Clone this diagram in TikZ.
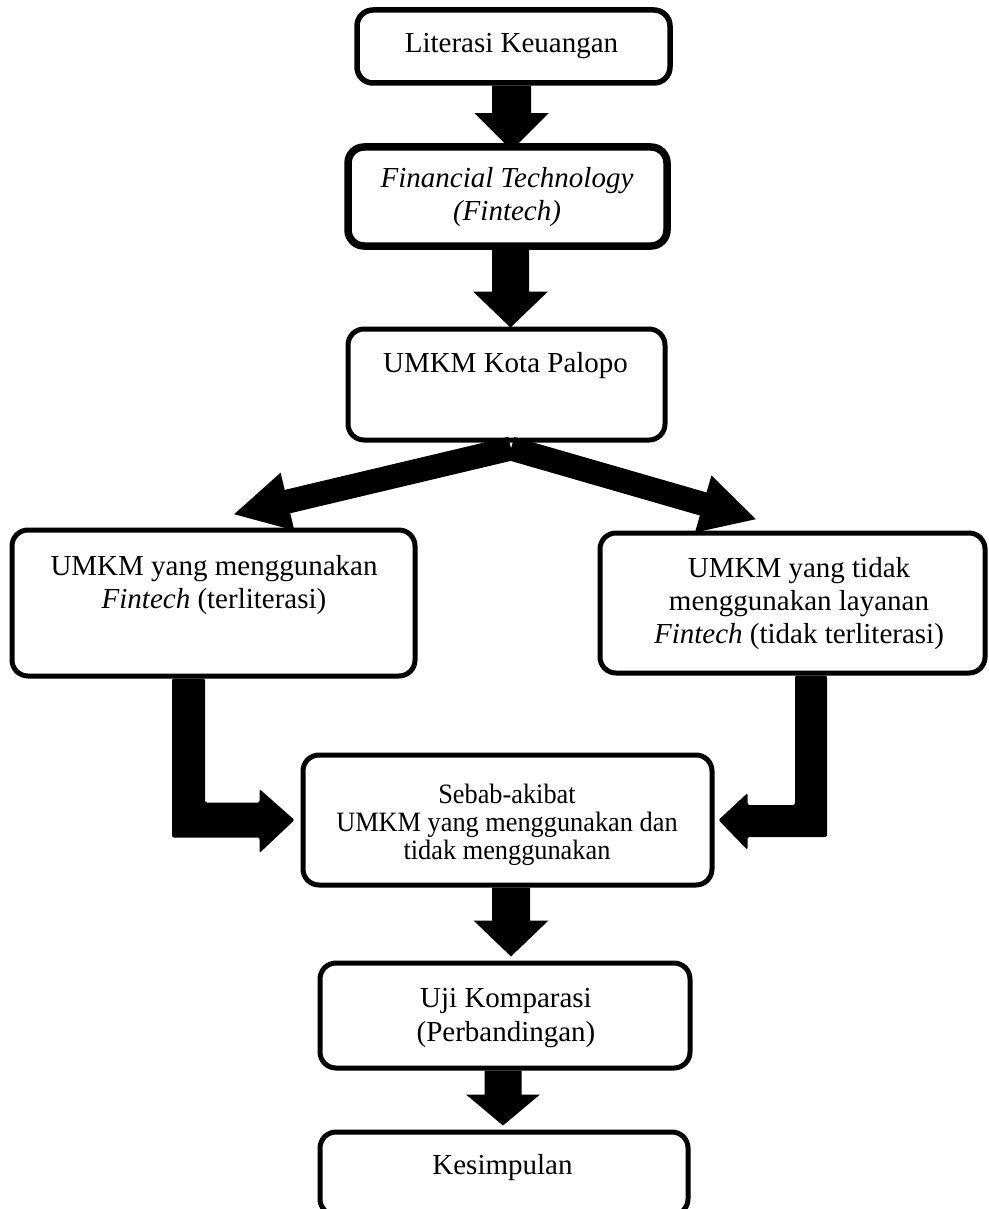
\documentclass[tikz,border=0pt]{standalone}
\usepackage{fontspec}
\setmainfont{Liberation Serif}
\newfontfamily\condserif[FakeStretch=0.94]{Liberation Serif}
\usetikzlibrary{calc,arrows.meta}
\tikzset{
  box/.style={draw, line width=5pt, rounded corners=16pt, inner sep=0pt, fill=white},
  txt/.style={inner sep=0pt, anchor=base, font=\fontsize{29pt}{33pt}\selectfont},
  ctxt/.style={inner sep=0pt, anchor=base, font=\condserif\fontsize{28pt}{31pt}\selectfont},
  fatarrow/.style={line width=24pt, -{Triangle[length=56pt,width=55pt]}},
}
\newcommand\blockdown[5]{%
  \fill let \p1=(#1), \p2=(#2) in
  (\x2-#3,\y1) -- (\x2-#3,\y2+#5) -- (\x2-#4,\y2+#5) -- (\x2,\y2)
  -- (\x2+#4,\y2+#5) -- (\x2+#3,\y2+#5) -- (\x2+#3,\y1) -- cycle;}
\begin{document}
\begin{tikzpicture}[x=1pt,y=-1pt]
\useasboundingbox (0,0) rectangle (988,1209);
\clip (0,0) rectangle (988,1209);
% boxes
\node[box, line width=5.5pt, minimum width=313pt, minimum height=73pt] (b1) at (513.5,46.5) {};
\node[box, line width=7.5pt, minimum width=319pt, minimum height=99pt] (b2) at (507.5,196.5) {};
\node[box, minimum width=317pt, minimum height=111pt] (b3) at (506.5,384.5) {};
\node[box, minimum width=403pt, minimum height=146pt] (b4) at (213.5,603) {};
\node[box, minimum width=385pt, minimum height=140pt] (b5) at (792.5,603) {};
\node[box, minimum width=409pt, minimum height=130pt] (b6) at (507.5,820) {};
\node[box, minimum width=370pt, minimum height=105pt] (b7) at (505,1015.5) {};
\node[box, minimum width=368pt, minimum height=83pt] (b8) at (504,1173.5) {};
% arrow tips
\coordinate (tip1) at ($(b2.north)+(4,7)$);
\coordinate (tip2) at ($(b3.north)+(4,1)$);
\coordinate (tip3) at ($(b7.north)+(6,-4)$);
\coordinate (tip4) at ($(b8.north)+(-1,-4)$);
\coordinate (apex) at ($(b3.south)+(4.5,6)$);
\coordinate (tipL) at ($(b4.north)+(19.5,-13)$);
\coordinate (tipR) at ($(b5.north)+(-35.5,-11)$);
% straight block arrows
\blockdown{b1.south}{tip1}{19.5pt}{37pt}{37pt}
\blockdown{b2.south}{tip2}{18.5pt}{37.5pt}{36pt}
\blockdown{b6.south}{tip3}{19pt}{37.5pt}{36pt}
\blockdown{b7.south}{tip4}{18.5pt}{37pt}{31pt}
% diverging arrows
\draw[fatarrow] (apex) -- (tipL);
\draw[fatarrow] (apex) -- (tipR);
% elbow arrows
\fill[rounded corners=2pt] let \p1=(b4.south), \p2=(b6.west) in
  (\x1-41.5pt,\y1) -- (\x1-41.5pt,\y2-17.5pt) -- (\x2-41pt,\y2-17.5pt)
  -- (\x2-41pt,\y2-33pt) -- (\x2-6pt,\y2) -- (\x2-41pt,\y2+31pt)
  -- (\x2-41pt,\y2+17.5pt) -- (\x1-8.5pt,\y2+17.5pt) -- (\x1-8.5pt,\y1) -- cycle;
\fill[rounded corners=2pt] let \p1=(b5.south), \p2=(b6.east) in
  (\x1+2.5pt,\y1) -- (\x1+2.5pt,\y2+15pt) -- (\x2+33pt,\y2+15pt)
  -- (\x2+33pt,\y2+27pt) -- (\x2+4pt,\y2) -- (\x2+33pt,\y2-30pt)
  -- (\x2+33pt,\y2-17pt) -- (\x1+34.5pt,\y2-17pt) -- (\x1+34.5pt,\y1) -- cycle;
% texts
\node[txt] (t1) at (511.5,53) {Literasi Keuangan};
\node[txt] (t2a) at (507,187) {\itshape Financial Technology};
\node[txt] (t2b) at (507,220) {\itshape (Fintech)};
\node[txt] (t3) at (505.5,372) {UMKM Kota Palopo};
\node[txt] (t4a) at (214,575) {UMKM yang menggunakan};
\node[txt] (t4b) at (214,608) {\textit{Fintech} (terliterasi)};
\node[txt] (t5a) at (799,577) {UMKM yang tidak};
\node[txt] (t5b) at (799,610) {menggunakan layanan};
\node[txt] (t5c) at (799,643) {\textit{Fintech} (tidak terliterasi)};
\node[ctxt] (t6a) at (507,803) {Sebab-akibat};
\node[ctxt] (t6b) at (507,831) {UMKM yang menggunakan dan};
\node[ctxt] (t6c) at (507,859) {tidak menggunakan};
\node[txt] (t7a) at (506,1007) {Uji Komparasi};
\node[txt] (t7b) at (506,1041) {(Perbandingan)};
\node[txt] (t8) at (502.5,1174) {Kesimpulan};
\end{tikzpicture}
\end{document}
